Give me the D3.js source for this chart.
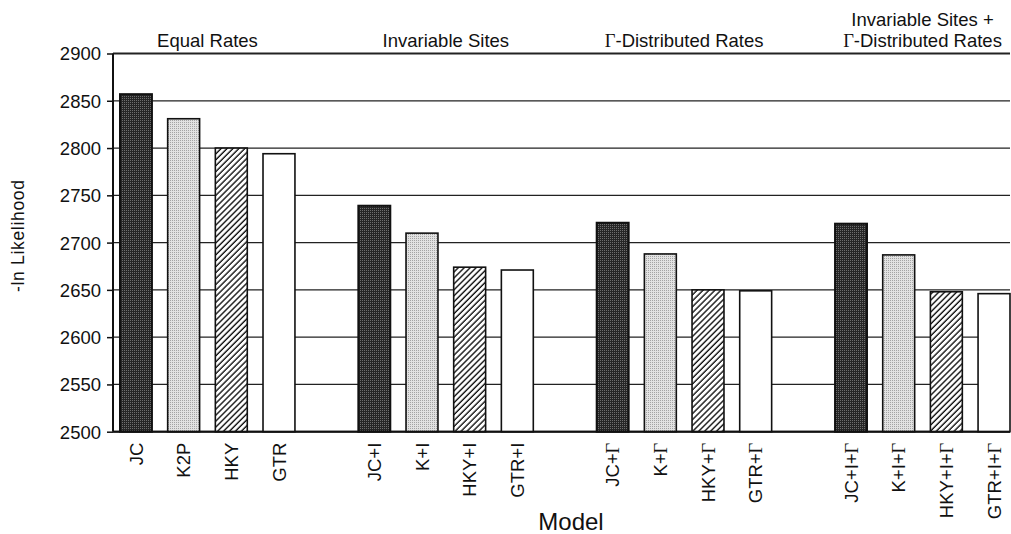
<!DOCTYPE html>
<html>
<head>
<meta charset="utf-8">
<script src="https://cdn.jsdelivr.net/npm/d3@7"></script>
<style>
  html, body { margin: 0; padding: 0; background: #fff; }
  svg { display: block; }
  text { font-family: "Liberation Sans", Arial, Helvetica, sans-serif; fill: #111; }
</style>
</head>
<body>
<svg id="chart" width="1011" height="534"></svg>
<script>
// ---------------- data ----------------
const groupNames = ["Equal Rates", "Invariable Sites", "Γ-Distributed Rates", "Invariable Sites +|Γ-Distributed Rates"];
const equalRatesModels = ["JC", "K2P", "HKY", "GTR"];
const invariableModels = ["JC+I", "K+I", "HKY+I", "GTR+I"];
const gammaModels = ["JC+Γ", "K+Γ", "HKY+Γ", "GTR+Γ"];
const invGammaModels = ["JC+I+Γ", "K+I+Γ", "HKY+I+Γ", "GTR+I+Γ"];
const equalRatesValues = [2857, 2831, 2800, 2794];
const invariableValues = [2739, 2710, 2674, 2671];
const gammaValues = [2721, 2688, 2650, 2649];
const invGammaValues = [2720, 2687, 2648, 2646];
const yTicks = [2500, 2550, 2600, 2650, 2700, 2750, 2800, 2850, 2900];
const yTitle = "-ln Likelihood";
const xTitle = "Model";

const groupModels = [equalRatesModels, invariableModels, gammaModels, invGammaModels];
const groupValues = [equalRatesValues, invariableValues, gammaValues, invGammaValues];

// flatten into slots, with an empty slot between groups
const bars = [];
const slots = [];
groupModels.forEach((ms, g) => {
  ms.forEach((m, i) => { slots.push(m); bars.push({ model: m, value: groupValues[g][i], kind: i, group: g }); });
  if (g < groupModels.length - 1) slots.push("__gap" + g);
});

// ---------------- layout ----------------
const svg = d3.select("#chart");
const plotLeft = 113, plotRight = 1010, plotTop = 53.5, plotBottom = 431.7;

const x = d3.scaleBand().domain(slots).range([120, 1010]).paddingInner(0.33).paddingOuter(0);
const y = d3.scaleLinear().domain([2500, 2900]).range([plotBottom, plotTop]);

// ---------------- patterns ----------------
const defs = svg.append("defs");
const pDark = defs.append("pattern").attr("id", "pDark").attr("width", 2).attr("height", 2).attr("patternUnits", "userSpaceOnUse");
pDark.append("rect").attr("width", 2).attr("height", 2).attr("fill", "#262626");
pDark.append("rect").attr("width", 1).attr("height", 1).attr("fill", "#6e6e6e");
const pLight = defs.append("pattern").attr("id", "pLight").attr("width", 2).attr("height", 2).attr("patternUnits", "userSpaceOnUse");
pLight.append("rect").attr("width", 2).attr("height", 2).attr("fill", "#e2e2e2");
pLight.append("rect").attr("width", 1).attr("height", 1).attr("fill", "#a4a4a4");
const pHatch = defs.append("pattern").attr("id", "pHatch").attr("width", 4.2).attr("height", 10)
  .attr("patternUnits", "userSpaceOnUse").attr("patternTransform", "rotate(45)");
pHatch.append("rect").attr("width", 4.2).attr("height", 10).attr("fill", "#fff");
pHatch.append("line").attr("x1", 1).attr("x2", 1).attr("y1", 0).attr("y2", 10).attr("stroke", "#111").attr("stroke-width", 1.4);
const fills = ["url(#pDark)", "url(#pLight)", "url(#pHatch)", "#ffffff"];

// ---------------- gridlines ----------------
svg.append("g").selectAll("line").data(yTicks).join("line")
  .attr("x1", plotLeft).attr("x2", plotRight)
  .attr("y1", d => y(d)).attr("y2", d => y(d))
  .attr("stroke", "#222")
  .attr("stroke-width", d => (d === 2900 || d === 2500) ? 1.8 : 1.3);

// ---------------- y axis ----------------
const yAxis = d3.axisLeft(y).tickValues(yTicks).tickSize(6).tickPadding(6).tickFormat(d3.format("d"));
const gy = svg.append("g").attr("transform", `translate(${plotLeft},0)`).call(yAxis);
gy.select(".domain").attr("stroke", "#111").attr("stroke-width", 2).attr("d", `M0,${plotBottom}V${plotTop}`);
gy.selectAll(".tick line").attr("stroke", "#111").attr("stroke-width", 1.5);
gy.selectAll(".tick text").attr("font-size", 18.5).attr("fill", "#111")
  .attr("font-family", "'Liberation Sans', Arial, sans-serif").attr("dy", "0.35em");

// ---------------- bars ----------------
svg.append("g").selectAll("rect").data(bars).join("rect")
  .attr("x", d => x(d.model))
  .attr("width", x.bandwidth())
  .attr("y", d => y(d.value))
  .attr("height", d => y(2500) - y(d.value))
  .attr("fill", d => fills[d.kind])
  .attr("stroke", "#111")
  .attr("stroke-width", d => d.kind === 0 ? 2 : 1.6);

// bottom axis line (drawn over bars)
svg.append("line").attr("x1", plotLeft).attr("x2", plotRight).attr("y1", plotBottom).attr("y2", plotBottom)
  .attr("stroke", "#111").attr("stroke-width", 2);

// helper: write text with Γ in a serif face
function richText(sel, str) {
  const parts = str.split(/(Γ)/).filter(s => s.length);
  parts.forEach(p => {
    const t = sel.append("tspan").text(p);
    if (p === "Γ") t.attr("font-family", "'Liberation Serif', 'Times New Roman', serif");
  });
}

// ---------------- x tick labels ----------------
const xAxis = d3.axisBottom(x).tickValues(bars.map(b => b.model)).tickSize(0).tickFormat(() => "");
const gx = svg.append("g").attr("transform", `translate(0,${plotBottom})`).call(xAxis);
gx.select(".domain").remove();
gx.selectAll(".tick").each(function(d) {
  const t = d3.select(this).append("text")
    .attr("transform", "translate(0,11) rotate(-90)")
    .attr("text-anchor", "end")
    .attr("dy", "0.36em")
    .attr("font-size", 18.5)
    .attr("fill", "#111");
  richText(t, d);
});

// ---------------- group headers ----------------
groupNames.forEach((name, g) => {
  const ms = groupModels[g];
  const cx = (x(ms[0]) + x(ms[ms.length - 1]) + x.bandwidth()) / 2;
  const lines = name.split("|");
  lines.forEach((ln, i) => {
    const t = svg.append("text")
      .attr("x", cx)
      .attr("y", 46.5 - (lines.length - 1 - i) * 21)
      .attr("text-anchor", "middle")
      .attr("font-size", 18.5);
    richText(t, ln);
  });
});

// ---------------- axis titles ----------------
svg.append("text")
  .attr("transform", "translate(24,236) rotate(-90)")
  .attr("text-anchor", "middle")
  .attr("font-size", 17.5)
  .attr("textLength", 112)
  .attr("lengthAdjust", "spacing")
  .text(yTitle);

svg.append("text")
  .attr("x", 571).attr("y", 530)
  .attr("text-anchor", "middle")
  .attr("font-size", 24)
  .text(xTitle);
</script>
</body>
</html>
